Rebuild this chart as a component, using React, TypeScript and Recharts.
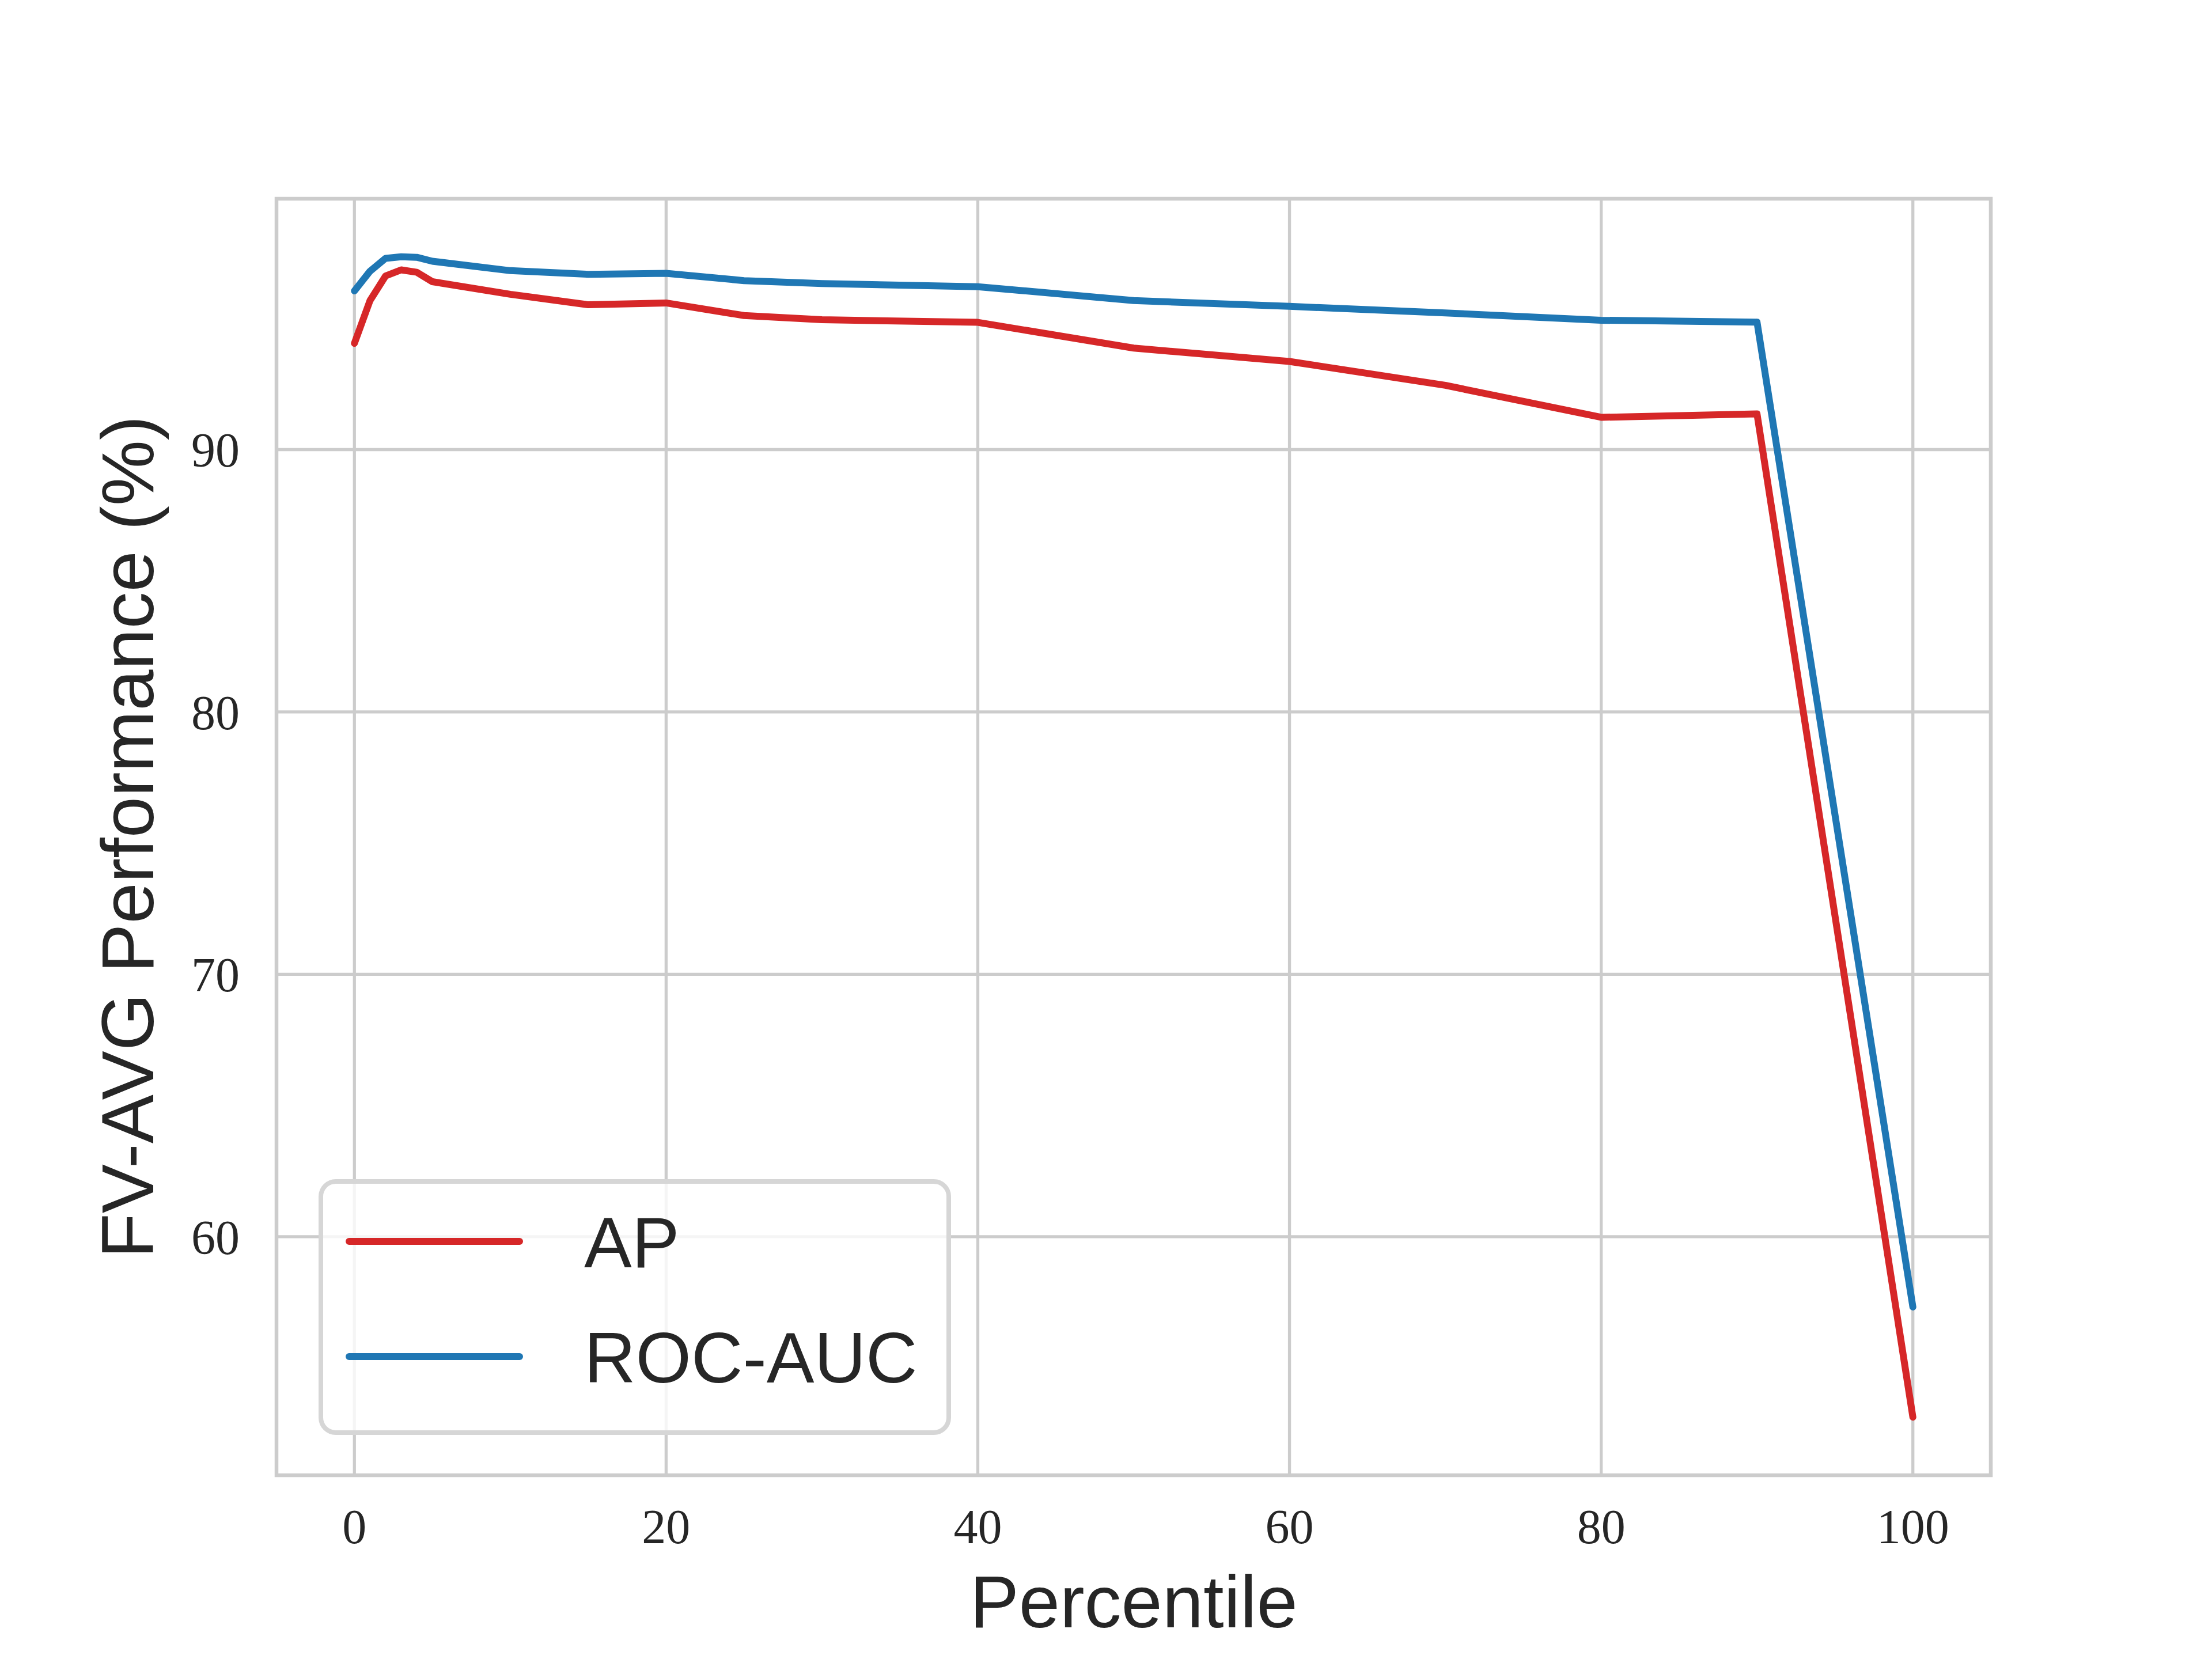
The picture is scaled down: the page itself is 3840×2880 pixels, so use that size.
import React from 'react';
import { LineChart, Line, XAxis, YAxis, CartesianGrid, ReferenceArea, Legend } from 'recharts';

// values
const percentiles = [0, 1, 2, 3, 4, 5, 10, 15, 20, 25, 30, 40, 50, 60, 70, 80, 90, 100];
const apValues = [94.05, 95.68, 96.62, 96.85, 96.76, 96.4, 95.92, 95.52, 95.59, 95.11, 94.95, 94.85, 93.87, 93.36, 92.45, 91.23, 91.36, 53.12];
const rocAucValues = [96.05, 96.8, 97.29, 97.35, 97.33, 97.18, 96.82, 96.68, 96.72, 96.44, 96.33, 96.21, 95.68, 95.46, 95.21, 94.93, 94.86, 57.32];
const xTicks = [0, 20, 40, 60, 80, 100];
const yTicks = [60, 70, 80, 90];

const data = percentiles.map((p, i) => ({ percentile: p, ap: apValues[i], roc: rocAucValues[i] }));

// matplotlib-like 5% autoscale margins
const pad = (lo: number, hi: number): [number, number] => {
  const m = (hi - lo) * 0.05;
  return [lo - m, hi + m];
};
const xDomain = pad(Math.min(...percentiles), Math.max(...percentiles));
const allY = [...apValues, ...rocAucValues];
const yDomain = pad(Math.min(...allY), Math.max(...allY));

const SERIF = '"Liberation Serif", "DejaVu Serif", serif';
const SANS = '"Liberation Sans", Arial, sans-serif';
const INK = '#262626';
const GRID = '#cccccc';

const YAxisTitle = (props: any) => {
  const vb = props.viewBox || { x: 0, y: 345, width: 480, height: 2216 };
  const cx = vb.x + 220;
  const cy = vb.y + vb.height / 2;
  return (
    <text
      x={cx}
      y={cy}
      dy="0.36em"
      transform={`rotate(-90 ${cx} ${cy})`}
      textAnchor="middle"
      fontSize={128}
      fontFamily={SANS}
      fill={INK}
    >
      FV-AVG Performance (%)
    </text>
  );
};

const LegendBox = ({ payload }: any) => (
  <svg width={1098} height={444} style={{ display: 'block' }}>
    <rect x={4} y={4} width={1090} height={436} rx={26} fill="#ffffff" fillOpacity={0.8} stroke="#d6d6d6" strokeWidth={8} />
    {(payload || []).map((entry: any, i: number) => {
      const cy = 108 + i * 200;
      return (
        <g key={entry.value}>
          <line x1={53} x2={349} y1={cy} y2={cy} stroke={entry.color} strokeWidth={12} strokeLinecap="round" />
          <text x={461} y={cy} dy="0.36em" fontSize={124} fontFamily={SANS} fill={INK}>
            {entry.value}
          </text>
        </g>
      );
    })}
  </svg>
);

export default function App() {
  return (
    <div style={{ width: 3840, height: 2880, background: '#ffffff' }}>
      <style>{'body{margin:0}'}</style>
      <LineChart width={3840} height={2880} data={data} margin={{ top: 345, right: 384, bottom: 0, left: 0 }}>
        <CartesianGrid stroke={GRID} strokeWidth={5.3} />
        <XAxis
          dataKey="percentile"
          type="number"
          domain={xDomain}
          ticks={xTicks}
          interval={0}
          allowDataOverflow
          height={319}
          tickLine={false}
          axisLine={false}
          tickMargin={52}
          tick={{ fontSize: 84, fontFamily: SERIF, fill: INK }}
          label={{ value: 'Percentile', position: 'insideBottom', offset: 55, fontSize: 128, fontFamily: SANS, fill: INK }}
        />
        <YAxis
          type="number"
          domain={yDomain}
          ticks={yTicks}
          interval={0}
          allowDataOverflow
          width={480}
          tickLine={false}
          axisLine={false}
          tickMargin={58}
          tick={{ fontSize: 84, fontFamily: SERIF, fill: INK }}
          label={<YAxisTitle />}
        />
        <ReferenceArea
          x1={xDomain[0]}
          x2={xDomain[1]}
          y1={yDomain[0]}
          y2={yDomain[1]}
          fill="none"
          stroke={GRID}
          strokeWidth={6.5}
          ifOverflow="visible"
        />
        <Line
          type="linear"
          dataKey="ap"
          name="AP"
          stroke="#d62728"
          strokeWidth={12}
          strokeLinecap="round"
          strokeLinejoin="round"
          dot={false}
          activeDot={false}
          isAnimationActive={false}
        />
        <Line
          type="linear"
          dataKey="roc"
          name="ROC-AUC"
          stroke="#1f77b4"
          strokeWidth={12}
          strokeLinecap="round"
          strokeLinejoin="round"
          dot={false}
          activeDot={false}
          isAnimationActive={false}
        />
        <Legend
          layout="horizontal"
          verticalAlign="middle"
          align="center"
          content={<LegendBox />}
          wrapperStyle={{ position: 'absolute', left: 553, top: 2047, width: 1098, height: 444 }}
        />
      </LineChart>
    </div>
  );
}
